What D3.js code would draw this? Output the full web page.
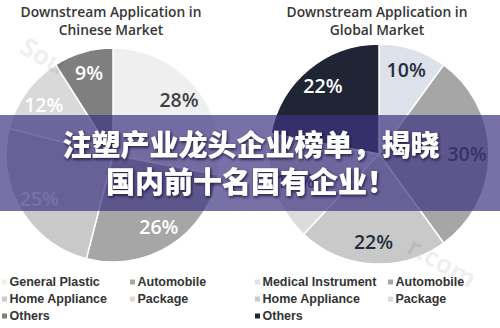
<!DOCTYPE html>
<html>
<head>
<meta charset="utf-8">
<script src="https://cdn.jsdelivr.net/npm/d3@7"></script>
<style>
  body { margin: 0; background: #fff; }
  svg { display: block; }
</style>
</head>
<body>
<script>
// data
var categories_cn = ["General Plastic", "Automobile", "Home Appliance", "Package", "Others"];
var values_cn = [28, 26, 25, 12, 9];
var colors_cn = ["#efefef", "#a6a6a6", "#c9c9c9", "#d9d9d9", "#7f7f7f"];
var labelcol_cn = ["#404040", "#fff", "#fff", "#fff", "#fff"];

var categories_gl = ["Medical Instrument", "Automobile", "Home Appliance", "Package", "Others"];
var values_gl = [10, 30, 22, 16, 22];
var colors_gl = ["#dde1e9", "#a6a6a6", "#c9c9c9", "#dcdcdc", "#1f2535"];
var labelcol_gl = ["#262d3d", "#262d3d", "#262d3d", "#262d3d", "#fff"];

var titles = [["Downstream Application in", "Chinese Market"], ["Downstream Application in", "Global Market"]];
var banner_lines = ["注塑产业龙头企业榜单，揭晓", "国内前十名国有企业！"];

var width = 500, height = 328;
var svg = d3.select("body").append("svg").attr("width", width).attr("height", height);

function draw_pie(cx, cy, r, tx, title, cats, vals, cols, lcols, legx) {
    var pie = d3.pie().sort(null).value(function(d) { return d; });
    var arc = d3.arc().innerRadius(0).outerRadius(r);
    var larc = d3.arc().innerRadius(r * 0.8).outerRadius(r * 0.8);
    var arcs = pie(vals);

    var g = svg.append("g").attr("transform", "translate(" + cx + "," + cy + ")");
    g.selectAll("path").data(arcs).enter().append("path")
        .attr("d", arc)
        .attr("fill", function(d, i) { return cols[i]; })
        .attr("stroke", "#fff")
        .attr("stroke-width", 1.5);

    g.selectAll("text").data(arcs).enter().append("text")
        .attr("transform", function(d) { return "translate(" + larc.centroid(d) + ")"; })
        .attr("dy", "0.36em")
        .attr("text-anchor", "middle")
        .attr("font-family", "'Open Sans', sans-serif")
        .attr("font-weight", 600)
        .attr("font-size", 19.5)
        .attr("fill", function(d, i) { return lcols[i]; })
        .text(function(d) { return d.data + "%"; });

    title.forEach(function(t, i) {
        svg.append("text")
            .attr("x", tx).attr("y", 17 + i * 18)
            .attr("text-anchor", "middle")
            .attr("font-family", "'Open Sans', sans-serif")
            .attr("font-weight", 600)
            .attr("font-size", 13.8)
            .attr("fill", "#363636")
            .text(t);
    });

    // legend, two columns filled row by row
    var lg = svg.append("g");
    cats.forEach(function(c, i) {
        var col = i % 2, row = Math.floor(i / 2);
        var x = legx[col], y = 282 + row * 17;
        lg.append("rect")
            .attr("x", x).attr("y", y - 2.5)
            .attr("width", 5).attr("height", 5)
            .attr("fill", cols[i]);
        lg.append("text")
            .attr("x", x + 7.5).attr("y", y)
            .attr("dy", "0.35em")
            .attr("font-family", "'Liberation Sans', Arial, sans-serif")
            .attr("font-weight", "bold")
            .attr("font-size", 12.5)
            .attr("fill", "#333")
            .text(c);
    });
}

draw_pie(113, 155, 107, 111, titles[0], categories_cn, values_cn, colors_cn, labelcol_cn, [2, 130]);
draw_pie(379, 154, 110, 377, titles[1], categories_gl, values_gl, colors_gl, labelcol_gl, [255, 388]);

// faint watermark
svg.append("text")
    .attr("transform", "translate(18,52) rotate(30)")
    .attr("font-family", "'Open Sans', sans-serif")
    .attr("font-weight", 700)
    .attr("font-size", 26)
    .attr("fill", "#000").attr("fill-opacity", 0.08)
    .text("Sou");
svg.append("text")
    .attr("transform", "translate(405,252) rotate(30)")
    .attr("font-family", "'Open Sans', sans-serif")
    .attr("font-weight", 700)
    .attr("font-size", 26)
    .attr("fill", "#000").attr("fill-opacity", 0.08)
    .text("r.com");

// purple banner with headline
svg.append("rect")
    .attr("x", 0).attr("y", 115)
    .attr("width", width).attr("height", 96)
    .attr("fill", "rgb(62,52,130)")
    .attr("fill-opacity", 0.7);

var defs = svg.append("defs");
var f = defs.append("filter").attr("id", "sh").attr("x", "-10%").attr("y", "-30%").attr("width", "120%").attr("height", "160%");
f.append("feDropShadow").attr("dx", 1).attr("dy", 1.5).attr("stdDeviation", 1.5)
    .attr("flood-color", "#140f35").attr("flood-opacity", 0.9);

banner_lines.forEach(function(t, i) {
    svg.append("text")
        .attr("x", 251).attr("y", 146 + i * 37)
        .attr("dy", "0.36em")
        .attr("text-anchor", "middle")
        .attr("font-family", "'Noto Sans CJK SC', sans-serif")
        .attr("font-weight", 900)
        .attr("font-size", 29)
        .attr("fill", "#fff")
        .attr("filter", "url(#sh)")
        .text(t);
});
</script>
</body>
</html>
